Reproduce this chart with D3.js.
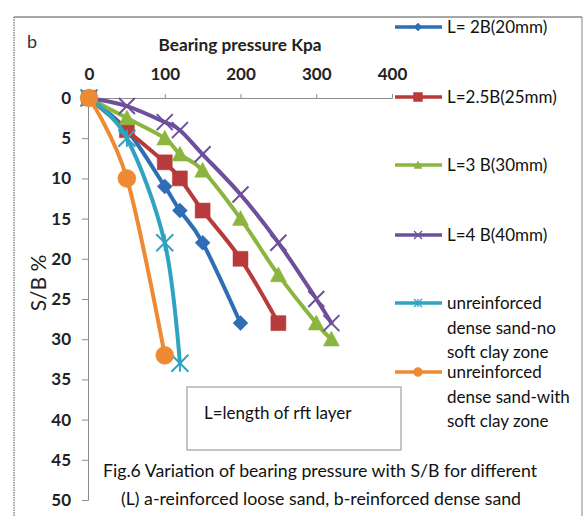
<!DOCTYPE html>
<html><head><meta charset="utf-8">
<script src="https://cdn.jsdelivr.net/npm/d3@7"></script>
<style>
html,body{margin:0;padding:0;background:#fff;}
svg{display:block;font-family:Lato,"Liberation Sans",sans-serif;}
</style></head>
<body><svg id="c" width="585" height="516"></svg>
<script>
// ---- data ----
const xTicks = [0, 100, 200, 300, 400];
const yTicks = [0, 5, 10, 15, 20, 25, 30, 35, 40, 45, 50];
const seriesNames = ["L= 2B(20mm)", "L=2.5B(25mm)", "L=3 B(30mm)", "L=4 B(40mm)",
  "unreinforced dense sand-no soft clay zone", "unreinforced dense sand-with soft clay zone"];
const p2B   = [0, 50, 100, 120, 150, 200];
const sb2B  = [0, 4, 11, 14, 18, 28];
const p25B  = [0, 50, 100, 120, 150, 200, 250];
const sb25B = [0, 4, 8, 10, 14, 20, 28];
const p3B   = [0, 50, 100, 120, 150, 200, 250, 300, 320];
const sb3B  = [0, 2.5, 5, 7, 9, 15, 22, 28, 30];
const p4B   = [0, 50, 100, 120, 150, 200, 250, 300, 320];
const sb4B  = [0, 1, 3, 4, 7, 12, 18, 25, 28];
const pNoClay  = [0, 50, 100, 120];
const sbNoClay = [0, 5, 18, 33];
const pClay    = [0, 50, 100];
const sbClay   = [0, 10, 32];

const colors = ["#2f6db5", "#b83a3a", "#8bb53f", "#6d4f9c", "#2fa3c0", "#ee8a33"];
const markers = ["diamond", "square", "triangle", "x", "asterisk", "circle"];
const legendLines = [["L= 2B(20mm)"], ["L=2.5B(25mm)"], ["L=3 B(30mm)"], ["L=4 B(40mm)"],
  ["unreinforced", "dense sand-no", "soft clay zone"],
  ["unreinforced", "dense sand-with", "soft clay zone"]];

const series = [[p2B, sb2B], [p25B, sb25B], [p3B, sb3B], [p4B, sb4B], [pNoClay, sbNoClay], [pClay, sbClay]]
  .map((s, i) => ({name: seriesNames[i], color: colors[i], marker: markers[i],
    pts: s[0].map((v, j) => ({x: v, y: s[1][j]}))}));

const svg = d3.select("#c");
const x = d3.scaleLinear().domain([0, 400]).range([89, 392]);
const y = d3.scaleLinear().domain([0, 50]).range([98, 500]);

// frame
svg.append("line").attr("x1", 14).attr("x2", 582).attr("y1", 17).attr("y2", 17).attr("stroke", "#8a8a8a").attr("stroke-width", 1.5);
svg.append("line").attr("x1", 14).attr("x2", 14).attr("y1", 17).attr("y2", 516).attr("stroke", "#8a8a8a").attr("stroke-width", 1.5).attr("stroke-dasharray", "1.5,1");
svg.append("line").attr("x1", 582).attr("x2", 582).attr("y1", 17).attr("y2", 516).attr("stroke", "#9a9a9a").attr("stroke-width", 1.2);

// axes
const xAxis = d3.axisTop(x).tickValues(xTicks).tickSize(4).tickPadding(14).tickFormat(d3.format("d"));
const gx = svg.append("g").attr("transform", "translate(0,98)").call(xAxis);
const yAxis = d3.axisLeft(y).tickValues(yTicks).tickSize(6).tickPadding(11).tickFormat(d3.format("d"));
const gy = svg.append("g").attr("transform", "translate(88,0)").call(yAxis);
[gx, gy].forEach(g => {
  g.select(".domain").attr("stroke", "#8c8c8c").attr("stroke-width", 1);
  g.selectAll(".tick line").attr("stroke", "#8c8c8c");
  g.selectAll("text").attr("font-family", "Lato, sans-serif").attr("font-size", 17).attr("font-weight", "bold").attr("fill", "#222");
});

// titles
svg.append("text").attr("x", 240).attr("y", 51).attr("text-anchor", "middle").attr("font-size", 17).attr("font-weight", "bold").attr("fill", "#222")
  .attr("textLength", 163).attr("lengthAdjust", "spacingAndGlyphs").text("Bearing pressure Kpa");
svg.append("text").attr("x", 27).attr("y", 48).attr("font-size", 18).attr("fill", "#333").text("b");
svg.append("text").attr("transform", "translate(46,283) rotate(-90)").attr("text-anchor", "middle").attr("font-size", 21).attr("fill", "#222").text("S/B %");

// symbol paths
function markerPath(type, s) {
  const h = s / 2;
  switch (type) {
    case "diamond": return `M0,${-h}L${h},0L0,${h}L${-h},0Z`;
    case "square": return `M${-h},${-h}H${h}V${h}H${-h}Z`;
    case "triangle": return `M0,${-h}L${h},${h * 0.85}L${-h},${h * 0.85}Z`;
    case "x": return `M${-h},${-h}L${h},${h}M${h},${-h}L${-h},${h}`;
    case "asterisk": return `M${-h},${-h}L${h},${h}M${h},${-h}L${-h},${h}M0,${-h}V${h}`;
    case "circle": return d3.symbol(d3.symbolCircle, Math.PI * h * h)();
  }
}
const stroked = t => t === "x" || t === "asterisk";

const line = d3.line().x(d => x(d.x)).y(d => y(d.y)).curve(d3.curveCardinal.tension(0));
const sizes = {diamond: 15, square: 15, triangle: 16, x: 16, asterisk: 17, circle: 18};

series.forEach(s => {
  const g = svg.append("g");
  g.append("path").attr("d", line(s.pts)).attr("fill", "none").attr("stroke", s.color).attr("stroke-width", 4).attr("stroke-linecap", "round");
  g.selectAll("path.m").data(s.pts).enter().append("path").attr("class", "m")
    .attr("transform", d => `translate(${x(d.x)},${y(d.y)})`)
    .attr("d", markerPath(s.marker, sizes[s.marker]))
    .attr("fill", stroked(s.marker) ? "none" : s.color)
    .attr("stroke", s.color).attr("stroke-width", stroked(s.marker) ? 2 : 0.5);
});

// legend
const legY = [27, 97, 165, 235, 303, 372];
series.forEach((s, i) => {
  const g = svg.append("g").attr("transform", `translate(0,${legY[i]})`);
  g.append("line").attr("x1", 395).attr("x2", 442).attr("y1", 0).attr("y2", 0).attr("stroke", s.color).attr("stroke-width", 3.5);
  const ms = s.marker === "square" ? 9 : s.marker === "circle" ? 9 : 8;
  g.append("path").attr("transform", "translate(418,0)").attr("d", markerPath(s.marker, ms))
    .attr("fill", stroked(s.marker) ? "none" : s.color).attr("stroke", s.color).attr("stroke-width", stroked(s.marker) ? 1.3 : 0.5);
  legendLines[i].forEach((t, k) => {
    g.append("text").attr("x", 447).attr("y", 6 + k * 24.5).attr("font-size", 17).attr("fill", "#111").text(t);
  });
});

// annotation box
svg.append("rect").attr("x", 187).attr("y", 387).attr("width", 214).attr("height", 63).attr("fill", "#fff").attr("stroke", "#a0a0a0").attr("stroke-width", 1.2);
svg.append("text").attr("x", 204).attr("y", 419).attr("font-size", 17).attr("fill", "#111").text("L=length of rft layer");

// caption
svg.append("text").attr("x", 320).attr("y", 477).attr("text-anchor", "middle").attr("font-size", 17).attr("fill", "#111")
  .attr("textLength", 434).attr("lengthAdjust", "spacingAndGlyphs").text("Fig.6 Variation of bearing pressure with S/B for different");
svg.append("text").attr("x", 321).attr("y", 505).attr("text-anchor", "middle").attr("font-size", 17).attr("fill", "#111")
  .attr("textLength", 400).attr("lengthAdjust", "spacingAndGlyphs").text("(L) a-reinforced loose sand, b-reinforced dense sand");
</script></body></html>
